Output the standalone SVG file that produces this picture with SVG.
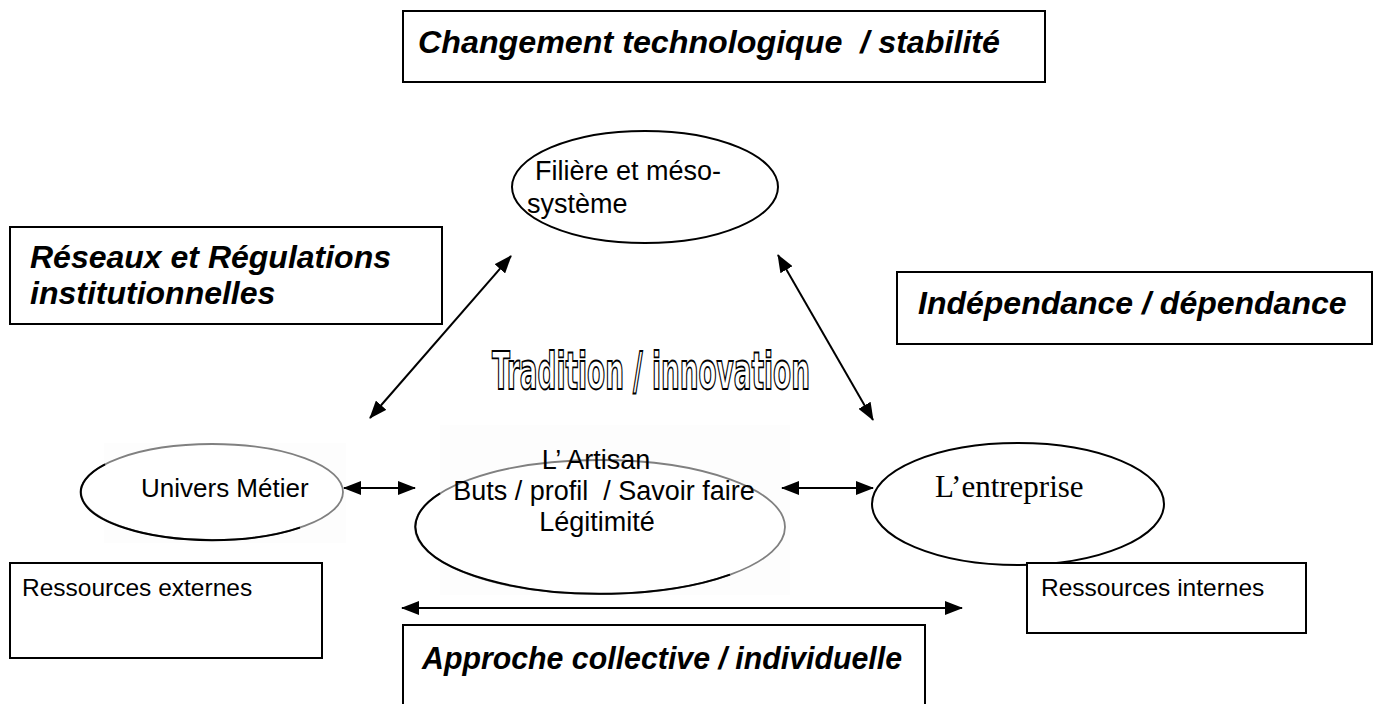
<svg xmlns="http://www.w3.org/2000/svg" width="1387" height="704" viewBox="0 0 1387 704">
  <style>
    .box { fill: #ffffff; stroke: #000000; stroke-width: 2; }
    .oval { fill: #ffffff; stroke: #000000; stroke-width: 2; }
    .oval-soft { fill: #ffffff; stroke: #808080; stroke-width: 1.8; }
    .arc { fill: none; stroke: #000000; stroke-width: 2; }
    .theme { font-family: "Liberation Sans", Arial, sans-serif; font-weight: bold; font-style: italic; font-size: 32px; fill: #000000; white-space: pre; }
    .lbl { font-family: "Liberation Sans", Arial, sans-serif; font-size: 26px; fill: #000000; white-space: pre; }
    .lbl-lg { font-family: "Liberation Sans", Arial, sans-serif; font-size: 27px; fill: #000000; white-space: pre; }
    .res { font-family: "Liberation Sans", Arial, sans-serif; font-size: 24.5px; fill: #000000; }
    .serif { font-family: "Liberation Serif", "Times New Roman", serif; font-size: 31px; fill: #000000; }
    .outline { font-family: "Liberation Sans Narrow", "DejaVu Sans Condensed", "Liberation Sans", sans-serif; font-weight: bold; font-size: 52px; fill: #ffffff; stroke: #000000; stroke-width: 1.8; }
    .link { stroke: #000000; stroke-width: 2; fill: none; marker-start: url(#head); marker-end: url(#head); }
  </style>
  <defs>
    <marker id="head" viewBox="0 0 18 14" refX="17" refY="7" markerWidth="18" markerHeight="14" markerUnits="userSpaceOnUse" orient="auto-start-reverse">
      <path d="M0,0 L18,7 L0,14 Z" fill="#000000"/>
    </marker>
  </defs>

  <rect width="1387" height="704" fill="#ffffff"/>

  <!-- theme boxes -->
  <g id="changement">
    <rect class="box" x="403" y="11" width="642" height="71"/>
    <text class="theme" x="418" y="53" textLength="582" lengthAdjust="spacingAndGlyphs">Changement technologique  / stabilité</text>
  </g>
  <g id="reseaux">
    <rect class="box" x="10" y="227" width="432" height="97"/>
    <text class="theme" x="30" y="268">Réseaux et Régulations</text>
    <text class="theme" x="30" y="304">institutionnelles</text>
  </g>
  <g id="independance">
    <rect class="box" x="897" y="272" width="475" height="72"/>
    <text class="theme" x="918" y="314">Indépendance / dépendance</text>
  </g>
  <g id="approche">
    <rect class="box" x="403" y="625" width="522" height="90"/>
    <text class="theme" x="422" y="669" textLength="480" lengthAdjust="spacingAndGlyphs">Approche collective / individuelle</text>
  </g>

  <!-- central motto -->
  <g id="tradition">
    <text class="outline" x="492" y="389" textLength="318" lengthAdjust="spacingAndGlyphs">Tradition / innovation</text>
  </g>

  <!-- actor nodes -->
  <g id="filiere">
    <ellipse class="oval" cx="645" cy="187" rx="133" ry="56"/>
    <text class="lbl" x="535" y="180" style="font-size:27px">Filière et méso-</text>
    <text class="lbl" x="527" y="213" style="font-size:27px">système</text>
  </g>
  <g id="univers">
    <rect x="104" y="443" width="242" height="100" fill="#fdfdfd"/>
    <ellipse class="oval-soft" cx="212" cy="492" rx="131" ry="48"/>
    <path class="arc" d="M105,464.3 A131,48 0 0 0 300,527.6"/>
    <text class="lbl" x="141" y="497">Univers Métier</text>
  </g>
  <g id="artisan">
    <rect x="440" y="425" width="350" height="170" fill="#fdfdfd"/>
    <ellipse class="oval-soft" cx="600" cy="527" rx="185" ry="67"/>
    <path class="arc" d="M440,493.4 A185,67 0 0 0 730,574.6"/>
    <text class="lbl-lg" x="596" y="469" text-anchor="middle">L’ Artisan</text>
    <text class="lbl-lg" x="604" y="500" text-anchor="middle">Buts / profil  / Savoir faire</text>
    <text class="lbl-lg" x="597" y="531" text-anchor="middle">Légitimité</text>
  </g>
  <g id="entreprise">
    <ellipse class="oval" cx="1018" cy="504" rx="146" ry="61"/>
    <text class="serif" x="935" y="497">L’entreprise</text>
  </g>

  <!-- resource boxes -->
  <g id="ressources-externes">
    <rect class="box" x="10" y="563" width="312" height="95"/>
    <text class="res" x="22" y="596">Ressources externes</text>
  </g>
  <g id="ressources-internes">
    <rect class="box" x="1027" y="563" width="279" height="70"/>
    <text class="res" x="1041" y="596">Ressources internes</text>
  </g>

  <!-- two-way connectors -->
  <g id="connectors">
    <line class="link" x1="370" y1="418" x2="511" y2="256"/>
    <line class="link" x1="778" y1="255" x2="873" y2="420"/>
    <line class="link" x1="344" y1="488" x2="415" y2="488"/>
    <line class="link" x1="782" y1="488" x2="873" y2="488"/>
    <line class="link" x1="402" y1="608" x2="962" y2="608"/>
  </g>
</svg>
